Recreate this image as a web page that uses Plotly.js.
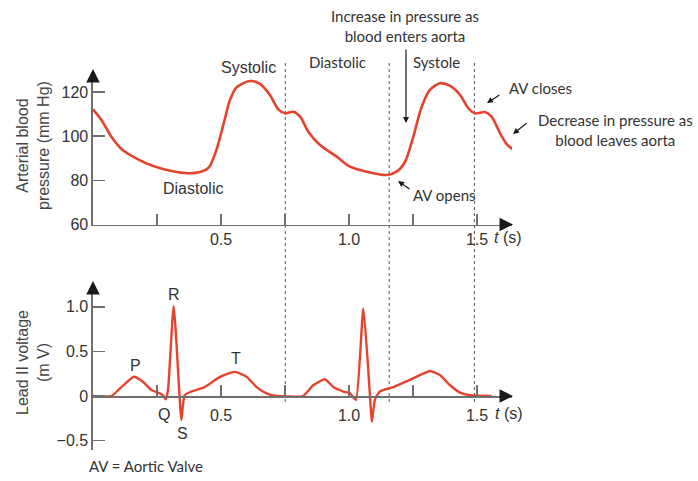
<!DOCTYPE html>
<html>
<head>
<meta charset="utf-8">
<script src="https://cdn.plot.ly/plotly-3.0.1.min.js"></script>
<style>html,body{margin:0;padding:0;background:#fff;}#chart{width:698px;height:481px;}</style>
</head>
<body>
<div id="chart"></div>
<script>
// ---- data ----
const tPressure = [0, 0.033, 0.072, 0.111, 0.176, 0.241, 0.306, 0.371, 0.423, 0.452, 0.482, 0.514, 0.535, 0.561, 0.613, 0.652, 0.691, 0.724, 0.75, 0.783, 0.809, 0.841, 0.887, 0.952, 1.004, 1.069, 1.147, 1.186, 1.219, 1.251, 1.284, 1.316, 1.355, 1.395, 1.434, 1.466, 1.492, 1.531, 1.557, 1.59, 1.616, 1.64];
const pressure = [112.1, 107.3, 99.7, 94.2, 89.5, 86.2, 84.2, 83.2, 83.9, 85.7, 93.7, 107.3, 116.3, 122.1, 124.9, 123.6, 118.6, 112.1, 110.3, 111.0, 108.8, 102, 96, 90.7, 86.2, 83.9, 82.4, 83.9, 88.4, 99.7, 113.3, 120.9, 123.9, 122.7, 118.6, 112.6, 110.3, 110.9, 108.8, 101.3, 96.4, 94.0];

const tVoltage = [0, 0.072, 0.111, 0.16, 0.195, 0.228, 0.254, 0.273, 0.284, 0.293, 0.315, 0.338, 0.345, 0.358, 0.384, 0.436, 0.488, 0.527, 0.555, 0.6, 0.639, 0.678, 0.711, 0.82, 0.86, 0.906, 0.939, 0.978, 1.004, 1.027, 1.056, 1.082, 1.089, 1.102, 1.121, 1.173, 1.238, 1.316, 1.355, 1.395, 1.434, 1.473, 1.557];
const voltage = [0, 0, 0.10, 0.216, 0.16, 0.067, 0.037, 0.01, -0.037, 0.067, 1.008, 0, -0.27, 0.01, 0.05, 0.10, 0.20, 0.25, 0.27, 0.216, 0.10, 0.03, 0.003, 0, 0.12, 0.187, 0.10, 0.05, 0.03, -0.045, 0.98, 0, -0.29, -0.03, 0.05, 0.10, 0.18, 0.28, 0.235, 0.12, 0.037, 0.008, 0];

const phaseLines = [0.751, 1.157, 1.49];           // dotted vertical lines (s)
const xTickVals = [0.25, 0.5, 0.75, 1.0, 1.25, 1.5];
const xTickText = ['', '0.5', '', '1.0', '', '1.5'];
const bpTickVals = [60, 80, 100, 120];
const bpTickText = ['60', '80', '100', '120'];
const mvTickVals = [-0.5, 0, 0.5, 1.0];
const mvTickText = ['\u22120.5', '0', '0.5', '1.0'];
const waveLabels = ['P', 'Q', 'R', 'S', 'T'];
const waveLabelT = [0.166, 0.278, 0.315, 0.348, 0.56];
const waveLabelV = [0.34, -0.21, 1.14, -0.42, 0.42];

// ---- layout helpers (pixel -> paper) ----
const W = 698, H = 481;
const PX = x => x / W;
const PY = y => 1 - y / H;

const RED = '#e5432d';
const AX = '#6f6f6f';
const TXT = '#333333';
const ARIAL = 'Liberation Sans, Arial, sans-serif';
const CAL = 'Lato, Noto Sans, sans-serif';

const traces = [
  {x: tPressure, y: pressure, xaxis: 'x', yaxis: 'y', mode: 'lines',
   line: {color: RED, width: 2.6, shape: 'spline', smoothing: 0.8}, hoverinfo: 'skip'},
  {x: tVoltage, y: voltage, xaxis: 'x2', yaxis: 'y2', mode: 'lines',
   line: {color: RED, width: 2.4, shape: 'spline', smoothing: 0.5}, hoverinfo: 'skip'}
];

const xdom = [PX(93), PX(512)];
const xrange = [0, (512 - 93) / 256];

const commonX = {
  domain: xdom, range: xrange, showgrid: false, zeroline: false,
  showline: true, linecolor: AX, linewidth: 1.6,
  ticks: 'inside', ticklen: 11, tickwidth: 1.6, tickcolor: AX,
  tickmode: 'array', tickvals: xTickVals, ticktext: xTickText,
  tickfont: {family: ARIAL, size: 16, color: TXT}
};
const commonY = {
  showgrid: false, zeroline: false, showline: true, linecolor: AX, linewidth: 1.6,
  ticks: 'inside', ticklen: 12, tickwidth: 1.6, tickcolor: AX, tickmode: 'array',
  tickfont: {family: ARIAL, size: 16, color: TXT}
};

const layout = {
  width: W, height: H, margin: {l: 0, r: 0, t: 0, b: 0},
  paper_bgcolor: '#fff', plot_bgcolor: 'rgba(0,0,0,0)', showlegend: false,
  xaxis: Object.assign({}, commonX, {anchor: 'y', ticklabelstandoff: 0}),
  yaxis: Object.assign({}, commonY, {
    domain: [PY(224.5), PY(76)], range: [60, 60 + (224.5 - 76) / 2.21],
    anchor: 'x', tickvals: bpTickVals, ticktext: bpTickText}),
  xaxis2: Object.assign({}, commonX, {anchor: 'free', position: PY(396), ticklabelstandoff: 4}),
  yaxis2: Object.assign({}, commonY, {
    domain: [PY(450), PY(288)], range: [-(450 - 396) / 89.3, (396 - 288) / 89.3],
    anchor: 'x2', tickvals: mvTickVals, ticktext: mvTickText}),
  shapes: phaseLines.map(t => ({
    type: 'line', xref: 'x', yref: 'paper', x0: t, x1: t, y0: PY(402), y1: PY(62),
    line: {color: '#555', width: 1, dash: 'dot'}, layer: 'below'
  })),
  annotations: []
};

const ann = layout.annotations;
function txt(text, x, y, font, size, extra) {
  ann.push(Object.assign({text: text, xref: 'paper', yref: 'paper', x: PX(x), y: PY(y),
    xanchor: 'center', yanchor: 'middle', showarrow: false,
    font: {family: font, size: size, color: TXT}}, extra || {}));
}
function arrow(hx, hy, tx, ty, w, size) {
  ann.push({text: '', xref: 'paper', yref: 'paper', x: PX(hx), y: PY(hy),
    ax: tx - hx, ay: ty - hy, showarrow: true, arrowhead: 2, arrowsize: size || 1,
    arrowwidth: w || 1.2, arrowcolor: '#1a1a1a', standoff: 0});
}

// axis titles
txt('Arterial blood<br>pressure (mm Hg)', 33, 146, ARIAL, 16, {textangle: -90, font: {family: ARIAL, size: 16, color: '#444'}});
txt('Lead II voltage<br>(m V)', 33, 363, ARIAL, 16, {textangle: -90, font: {family: ARIAL, size: 16, color: '#444'}});
// t (s) units after the 1.5 tick
txt('<i>t</i> (s)', 492, 237, ARIAL, 16, {xanchor: 'left'});
txt('<i>t</i> (s)', 493, 413, ARIAL, 16, {xanchor: 'left'});
// axis arrowheads
arrow(513, 224.5, 501, 224.5, 1.8, 1.5);
arrow(93, 69, 93, 81, 1.8, 1.5);
arrow(513, 396, 501, 396, 1.8, 1.5);
arrow(93, 281, 93, 293, 1.8, 1.5);

// chart labels
txt('Systolic', 248, 67, ARIAL, 16);
txt('Diastolic', 193, 188, ARIAL, 16);
txt('Diastolic', 337, 62, CAL, 15);
txt('Systole', 436, 62, CAL, 15);
txt('Increase in pressure as<br>blood enters aorta', 405, 26, CAL, 15);
txt('AV closes', 540, 88, CAL, 15);
txt('Decrease in pressure as<br>blood leaves aorta', 615, 130, CAL, 15);
txt('AV opens', 445, 195, CAL, 15);
txt('AV = Aortic Valve', 146, 466, CAL, 15);

arrow(406, 123, 406, 48, 1.2, 1);
arrow(487, 103, 501, 94, 1.2, 1);
arrow(513, 134, 528, 122, 1.2, 1);
arrow(398, 181, 411, 190, 1.2, 1);

// wave labels (data coords on the ECG panel)
waveLabels.forEach((s, i) => {
  ann.push({text: s, xref: 'x2', yref: 'y2', x: waveLabelT[i], y: waveLabelV[i],
    showarrow: false, xanchor: 'center', yanchor: 'middle',
    font: {family: ARIAL, size: 16, color: TXT}});
});

Plotly.newPlot('chart', traces, layout, {staticPlot: true, displayModeBar: false});
</script>
</body>
</html>
